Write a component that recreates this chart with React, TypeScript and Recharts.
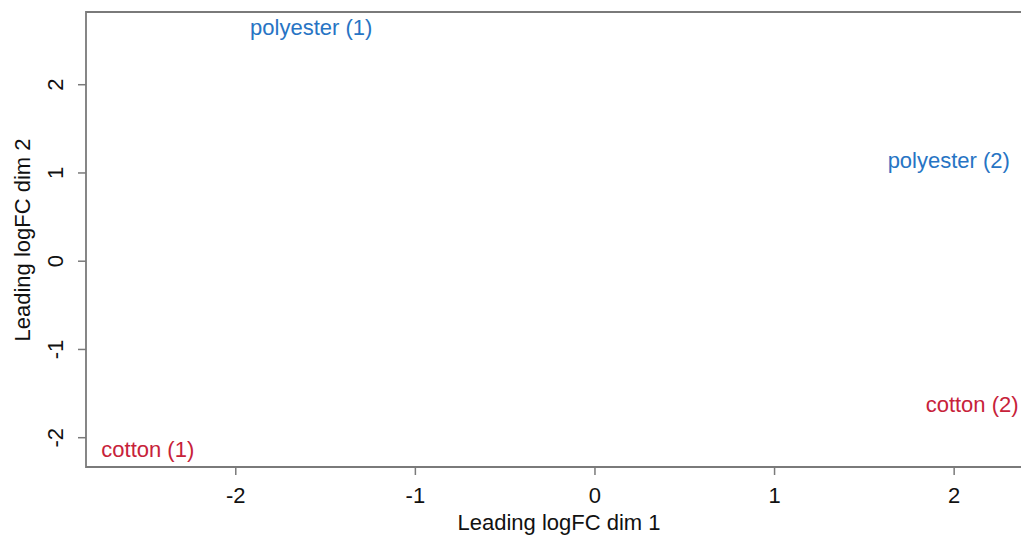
import React from "react";
import {
  ScatterChart,
  Scatter,
  XAxis,
  YAxis,
  ReferenceArea,
} from "recharts";

// MDS sample positions (leading logFC dims)
const sampleLabels = ["polyester (1)", "polyester (2)", "cotton (1)", "cotton (2)"];
const sampleGroups = ["polyester", "polyester", "cotton", "cotton"];
const dim1 = [-1.58, 1.97, -2.49, 2.1];
const dim2 = [2.64, 1.14, -2.14, -1.63];

const xTicks = [-2, -1, 0, 1, 2];
const yTicks = [-2, -1, 0, 1, 2];
const xDomain = [-2.834, 2.478];
const yDomain = [-2.332, 2.824];

const groupColors: Record<string, string> = {
  polyester: "#2774C4",
  cotton: "#C7223A",
};

const FONT = "'Liberation Sans', Arial, sans-serif";
const AXIS_GREY = "#7a7a7a";

const points = sampleLabels.map((label, i) => ({
  label,
  group: sampleGroups[i],
  x: dim1[i],
  y: dim2[i],
}));

const polyester = points.filter((p) => p.group === "polyester");
const cotton = points.filter((p) => p.group === "cotton");

// R's text(): label centred on the coordinate
const LabelShape = (props: any) => {
  const { cx, cy, payload } = props;
  return (
    <text
      x={cx}
      y={cy}
      dy={7}
      textAnchor="middle"
      fontSize={22}
      fontFamily={FONT}
      fill={groupColors[payload.group]}
    >
      {payload.label}
    </text>
  );
};

const YTick = (props: any) => {
  const { x, y, payload } = props;
  return (
    <text
      x={0}
      y={0}
      transform={`translate(${x - 13}, ${y}) rotate(-90)`}
      textAnchor="middle"
      fontSize={22}
      fontFamily={FONT}
      fill="#111"
    >
      {payload.value}
    </text>
  );
};

const XTick = (props: any) => {
  const { x, y, payload } = props;
  return (
    <text
      x={x}
      y={y + 26}
      textAnchor="middle"
      fontSize={22}
      fontFamily={FONT}
      fill="#111"
    >
      {payload.value}
    </text>
  );
};

export default function App() {
  return (
    <div
      style={{
        position: "absolute",
        top: 0,
        left: 0,
        width: 1021,
        height: 537,
        overflow: "hidden",
        background: "#fff",
      }}
    >
      <div style={{ position: "relative", width: 1041, height: 537 }}>
        <ScatterChart
          width={1041}
          height={537}
          margin={{ top: 12, right: 1, bottom: 0, left: 0 }}
        >
          <XAxis
            type="number"
            dataKey="x"
            domain={xDomain}
            ticks={xTicks}
            allowDataOverflow
            height={70}
            axisLine={false}
            tickSize={8}
            tickLine={{ stroke: AXIS_GREY, strokeWidth: 1.5 }}
            tick={<XTick />}
          />
          <YAxis
            type="number"
            dataKey="y"
            domain={yDomain}
            ticks={yTicks}
            allowDataOverflow
            width={86}
            axisLine={false}
            tickSize={8}
            tickLine={{ stroke: AXIS_GREY, strokeWidth: 1.5 }}
            tick={<YTick />}
          />
          <ReferenceArea
            x1={xDomain[0]}
            x2={xDomain[1]}
            y1={yDomain[0]}
            y2={yDomain[1]}
            fill="none"
            fillOpacity={0}
            stroke={AXIS_GREY}
            strokeWidth={1.8}
            ifOverflow="visible"
          />
          <Scatter data={polyester} shape={<LabelShape />} isAnimationActive={false} />
          <Scatter data={cotton} shape={<LabelShape />} isAnimationActive={false} />
        </ScatterChart>
        <div
          style={{
            position: "absolute",
            left: 559,
            top: 510,
            transform: "translateX(-50%)",
            whiteSpace: "nowrap",
            fontFamily: FONT,
            fontSize: 22,
            color: "#111",
            lineHeight: "26px",
          }}
        >
          Leading logFC dim 1
        </div>
        <div
          style={{
            position: "absolute",
            left: 23,
            top: 239.5,
            transform: "translate(-50%, -50%) rotate(-90deg)",
            whiteSpace: "nowrap",
            fontFamily: FONT,
            fontSize: 22,
            color: "#111",
            lineHeight: "26px",
          }}
        >
          Leading logFC dim 2
        </div>
      </div>
    </div>
  );
}
